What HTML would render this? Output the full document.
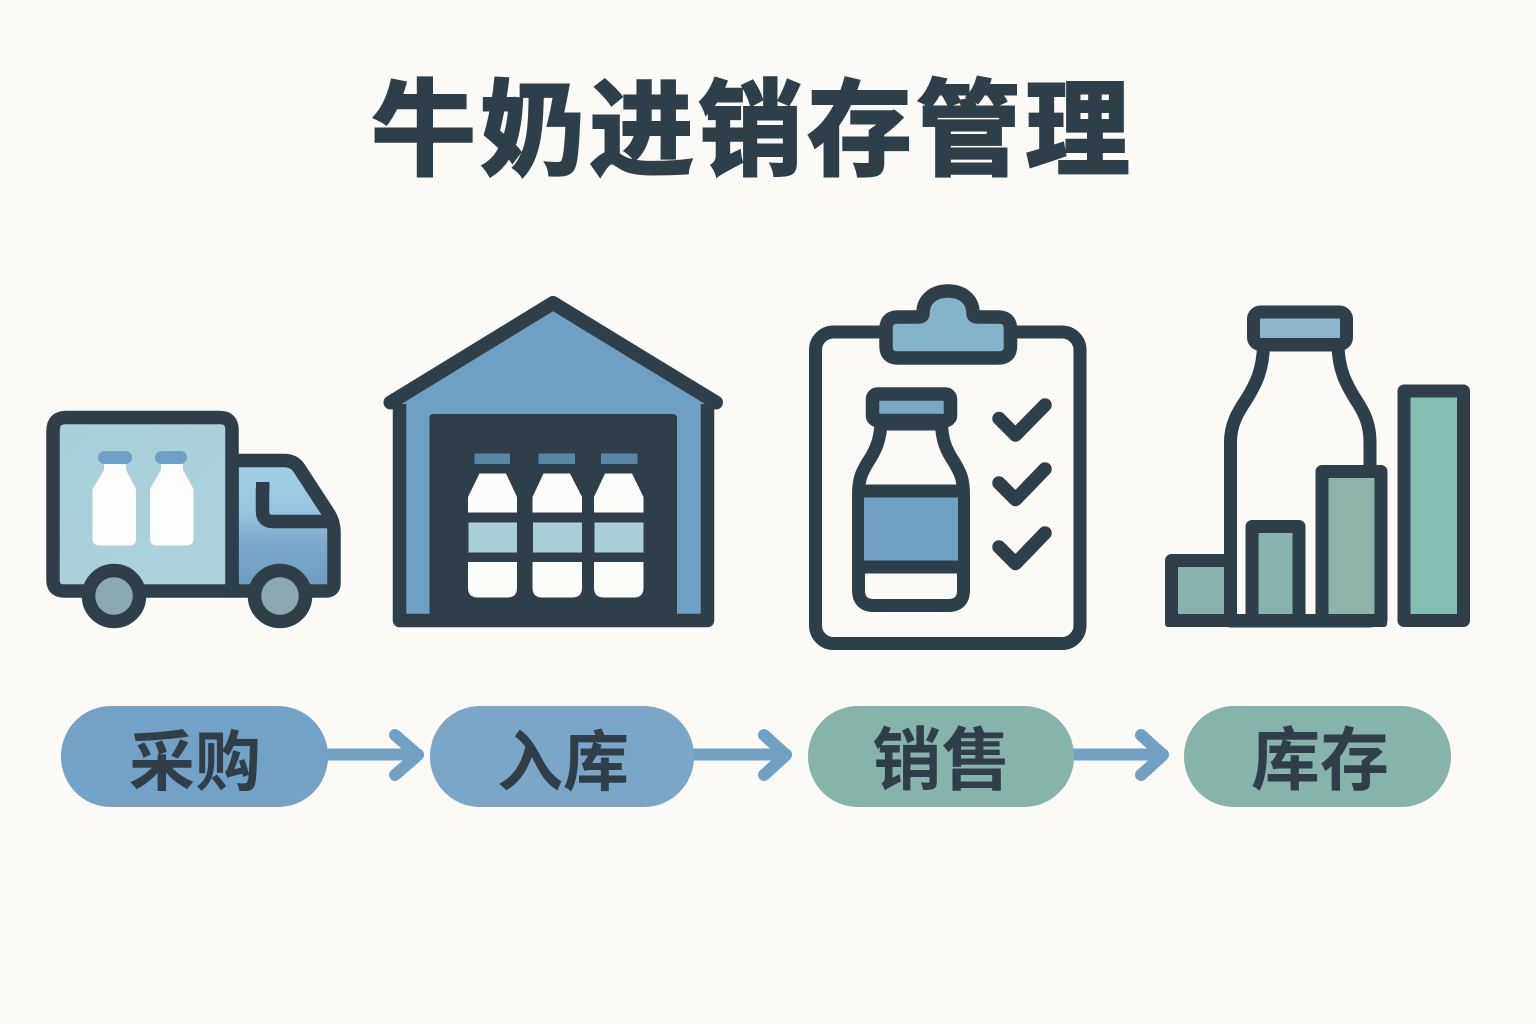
<!DOCTYPE html>
<html><head><meta charset="utf-8"><style>
html,body{margin:0;padding:0;background:#fbfaf6}
svg{display:block}
text{font-family:"Liberation Sans","Noto Sans CJK SC",sans-serif;font-weight:700;fill:#2f3f49;text-anchor:middle}
</style></head><body>
<svg width="1536" height="1024" viewBox="0 0 1536 1024" xmlns="http://www.w3.org/2000/svg">
<defs>
<linearGradient id="box" x1="0" y1="0" x2="1" y2="1"><stop offset="0" stop-color="#a6cfdb"/><stop offset="1" stop-color="#aed2da"/></linearGradient>
<linearGradient id="cab" x1="0" y1="0" x2="0" y2="1"><stop offset="0" stop-color="#a4d0e8"/><stop offset=".4" stop-color="#98c4df"/><stop offset=".62" stop-color="#7daacb"/><stop offset="1" stop-color="#6c9bc0"/></linearGradient>
</defs>
<rect width="1536" height="1024" fill="#fbfaf6"/>
<text x="753" y="166.5" font-size="104" letter-spacing="5" stroke="#2f3f49" stroke-width="3" stroke-linejoin="miter">牛奶进销存管理</text>

<!-- truck -->
<g stroke="#2f3f49" stroke-width="13.5" stroke-linejoin="round" stroke-linecap="round">
<path d="M232 460.500H284Q294 460.500 299 468L329 514Q334 522 334 532V583Q334 591 326 591H232Z" fill="url(#cab)"/>
<path d="M262.500 488V511Q262.500 521.500 273 521.500H332" fill="none" stroke-linecap="butt"/>
<path d="M66 417.500H220Q232 417.500 232 430V591H64Q53 591 53 580V431Q53 417.500 66 417.500Z" fill="url(#box)"/>
<circle cx="114" cy="596" r="25.500" fill="#8aaab0"/>
<circle cx="280" cy="596" r="25.500" fill="#8aaab0"/>
</g>
<rect x="256" y="482" width="13.500" height="8" fill="#2f3f49"/>
<g fill="#fdfdfb">
<rect x="98" y="451" width="34" height="13" rx="6.500" fill="#6f9fc4"/>
<rect x="155" y="451" width="32" height="13" rx="6.500" fill="#6f9fc4"/>
<path d="M104 464H126V470L136 489V539Q136 545.500 129 545.500H100Q92.500 545.500 92.500 539V489L104 470Z"/>
<path d="M161 464H183V470L193.500 489V539Q193.500 545.500 186 545.500H157Q150 545.500 150 539V489L161 470Z"/>
</g>

<!-- warehouse -->
<path d="M399 400L553 306L707 400V620H399Z" fill="#6f9fc2"/>
<path d="M399.500 404V620.500H707.500V404" fill="none" stroke="#2f3f49" stroke-width="13.500" stroke-linejoin="round"/>
<path d="M390.500 402.500L553 303L716 402.500" fill="none" stroke="#2f3f49" stroke-width="14" stroke-linejoin="round" stroke-linecap="round"/>
<path d="M429.500 418Q429.500 414 434 414H672Q677 414 677 418V621H429.500Z" fill="#2f3f49"/>
<g fill="#fcfcfa">
<rect x="474.500" y="453.500" width="35.500" height="10.500" fill="#5a87a8"/>
<rect x="538.500" y="453.500" width="36.500" height="10.500" fill="#5a87a8"/>
<rect x="601" y="453.500" width="36.500" height="10.500" fill="#5a87a8"/>
<path d="M479.500 473.500H506L517 497V512.500H468V497Z"/>
<path d="M543.500 473.500H570L582 497V512.500H532.500V497Z"/>
<path d="M605 473.500H632L643.500 497V512.500H594V497Z"/>
<rect x="468.500" y="522.500" width="48.500" height="30" fill="#a8cfd6"/>
<rect x="533" y="522.500" width="49" height="30" fill="#a8cfd6"/>
<rect x="594.500" y="522.500" width="49" height="30" fill="#a8cfd6"/>
<path d="M468 562H517V588Q517 597.500 507 597.500H478Q468 597.500 468 588Z"/>
<path d="M532.500 562H582V588Q582 597.500 572 597.500H542.500Q532.500 597.500 532.500 588Z"/>
<path d="M594 562H643.500V588Q643.500 597.500 633.500 597.500H604Q594 597.500 594 588Z"/>
</g>

<!-- clipboard -->
<g stroke="#2f3f49" stroke-linejoin="round" stroke-linecap="round">
<rect x="815.500" y="332" width="264.500" height="311.500" rx="18" fill="#fbfaf6" stroke-width="13"/>
<path d="M898 317H919Q923 317 923 313C923 299 934 291 948 291C962 291 973 299 973 313Q973 317 977 317H998Q1010.500 317 1010.500 329V346Q1010.500 358 998 358H898Q886 358 886 346V329Q886 317 898 317Z" fill="#85b3c9" stroke-width="13.500"/>
<path d="M881 424C880 440 876 450 868 462C862 472 858.500 478 858.500 495V590Q858.500 605.500 874 605.500H948Q963.500 605.500 963.500 590V495C963.500 478 960 472 954 462C946 450 942 440 941.500 424Z" fill="#fbfaf6" stroke-width="13"/>
<rect x="872.500" y="394" width="78" height="26.500" rx="5" fill="#7ba6c6" stroke-width="13.500"/>
<rect x="864" y="497" width="94" height="64" fill="#6f9fc2" stroke="none"/>
<path d="M859 491H963M859 567H963" fill="none" stroke-width="13" stroke-linecap="butt"/>
<path d="M999 418.500L1015.500 435L1045 405M999 483L1015.500 499.500L1045 469M999 547L1015.500 563.500L1045 533" fill="none" stroke-width="13.500"/>
</g>

<!-- bottle + bars -->
<g stroke="#2f3f49" stroke-linejoin="round" stroke-linecap="round">
<path d="M1230.500 621V442C1230.500 424 1238 412 1246 400C1256 384 1263 370 1263.500 345H1338C1338.500 370 1346 384 1356 400C1364 412 1370 424 1370 442V621Z" fill="#fbfaf6" stroke-width="13"/>
<rect x="1253.500" y="312" width="93" height="32.500" rx="7" fill="#8db6cd" stroke-width="13"/>
<rect x="1171.500" y="560.500" width="59" height="60" fill="#88b3ac" stroke-width="13"/>
<rect x="1252" y="526.500" width="47" height="94" fill="#86b3ac" stroke-width="13"/>
<rect x="1322" y="471.500" width="59" height="149" fill="#8eb3a8" stroke-width="13"/>
<rect x="1404" y="391" width="59.500" height="229.500" fill="#85bdb2" stroke-width="13"/>
</g>
<rect x="1165" y="614" width="222" height="13" rx="3" fill="#2f3f49"/>

<!-- arrows -->
<g fill="none" stroke="#72a0c3" stroke-width="12" stroke-linecap="round" stroke-linejoin="round">
<path d="M325 754.500H418M395 735L418 755L395 775"/>
<path d="M690 754.500H786M764 735L786 755L764 775"/>
<path d="M1070 754.500H1163M1141 735L1163 755L1141 775"/>
</g>

<!-- pills -->
<rect x="61" y="706" width="267" height="101" rx="50" fill="#74a1c6"/>
<rect x="430" y="706" width="264" height="101" rx="50" fill="#7ba6c7"/>
<rect x="808" y="706" width="266" height="101" rx="50" fill="#86b4ab"/>
<rect x="1184" y="706" width="267" height="101" rx="50" fill="#86b4ab"/>
<text x="195" y="785" font-size="66">采购</text>
<text x="563" y="785" font-size="66">入库</text>
<text x="941.500" y="784" font-size="69">销售</text>
<text x="1320" y="784" font-size="69">库存</text>
</svg>
</body></html>
